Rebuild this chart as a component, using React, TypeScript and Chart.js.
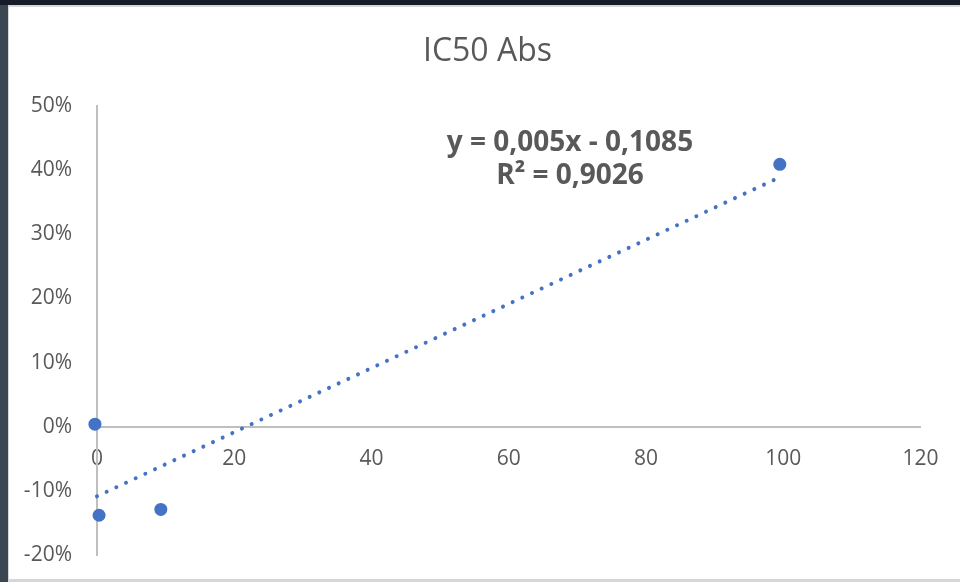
import { useEffect, useRef } from "react";
import { Chart, registerables } from "chart.js";

Chart.register(...registerables);

// Absorbance response per sample concentration
const SAMPLE_X = [-0.3, 0.3, 9.3, 99.5];
const ABS_Y = [0.004, -0.138, -0.129, 0.409];

// Linear trendline (as reported by the fit)
const TREND_SLOPE = 0.005;
const TREND_INTERCEPT = -0.1085;
const TREND_R2 = 0.9026;

const X_TICKS = [0, 20, 40, 60, 80, 100, 120];
const Y_TICKS = [-0.2, -0.1, 0, 0.1, 0.2, 0.3, 0.4, 0.5];
const TITLE = "IC50 Abs";

const BLUE = "#4472C4";
const TEXT = "#595959";
const AXIS = "#BFBFBF";
const FONT = "'Open Sans', 'Noto Sans', sans-serif";

const decimal = (v: number) => String(v).replace(".", ",");

const frame = {
  id: "frame",
  beforeDraw(chart: Chart) {
    const { ctx, width, height } = chart;
    ctx.save();
    ctx.fillStyle = "#3a4652";
    ctx.fillRect(0, 0, width, height);
    ctx.fillStyle = "#151b29";
    ctx.fillRect(0, 0, width, 5);
    ctx.fillStyle = "#d6d6d6";
    ctx.fillRect(8, 5, width - 8, height - 5);
    ctx.fillStyle = "#ffffff";
    ctx.fillRect(9, 7, width - 9, height - 10);
    ctx.restore();
  },
};

const labels = {
  id: "labels",
  afterDraw(chart: Chart) {
    const { ctx } = chart;
    ctx.save();
    ctx.fillStyle = TEXT;
    ctx.textAlign = "center";
    ctx.textBaseline = "alphabetic";
    ctx.font = `32px ${FONT}`;
    ctx.fillText(TITLE, 487.5, 60.5);
    const sign = TREND_INTERCEPT < 0 ? "-" : "+";
    const eq = `y = ${decimal(TREND_SLOPE)}x ${sign} ${decimal(Math.abs(TREND_INTERCEPT))}`;
    ctx.font = `bold 28px ${FONT}`;
    ctx.fillText(eq, 570, 151);
    ctx.fillText(`R² = ${decimal(TREND_R2)}`, 570, 184);
    ctx.restore();
  },
};

export default function App() {
  const ref = useRef<HTMLCanvasElement>(null);

  useEffect(() => {
    document.body.style.margin = "0";
    const canvas = ref.current;
    if (!canvas) return;

    const xEnd = Math.max(...SAMPLE_X);
    const trend = [0, xEnd].map((x) => ({ x, y: TREND_SLOPE * x + TREND_INTERCEPT }));
    const points = SAMPLE_X.map((x, i) => ({ x, y: ABS_Y[i] }));

    const chart = new Chart(canvas, {
      type: "scatter",
      data: {
        datasets: [
          {
            label: "Abs",
            data: points,
            backgroundColor: BLUE,
            borderColor: BLUE,
            pointRadius: 6.5,
            pointHoverRadius: 6.5,
            borderWidth: 0,
            clip: false,
            order: 1,
          },
          {
            type: "line",
            label: "Linear (Abs)",
            data: trend,
            borderColor: BLUE,
            borderWidth: 4,
            borderDash: [0.01, 10.66],
            borderCapStyle: "round",
            pointRadius: 0,
            showLine: true,
            fill: false,
            clip: false,
            order: 2,
          },
        ],
      },
      options: {
        responsive: false,
        animation: false,
        events: [],
        layout: { padding: { left: 0, right: 39.5, top: 106, bottom: 27 } },
        plugins: {
          legend: { display: false },
          title: { display: false },
          tooltip: { enabled: false },
        },
        scales: {
          x: {
            type: "linear",
            min: 0,
            max: 120,
            position: { y: 0 },
            grid: { display: false, drawTicks: false },
            border: { display: true, color: AXIS, width: 2 },
            afterBuildTicks: (s: any) => {
              s.ticks = X_TICKS.map((v) => ({ value: v }));
            },
            afterFit: (s: any) => {
              s.height = 0;
            },
            ticks: {
              color: TEXT,
              font: { family: FONT, size: 21 },
              padding: 20,
              maxRotation: 0,
              autoSkip: false,
            },
          },
          y: {
            type: "linear",
            min: -0.2,
            max: 0.5,
            position: "left",
            grid: { display: false, drawTicks: false },
            border: { display: true, color: AXIS, width: 2 },
            afterBuildTicks: (s: any) => {
              s.ticks = Y_TICKS.map((v) => ({ value: v }));
            },
            afterFit: (s: any) => {
              s.width = 97;
              s.paddingTop = 0;
              s.paddingBottom = 0;
            },
            ticks: {
              color: TEXT,
              font: { family: FONT, size: 21 },
              padding: 25,
              autoSkip: false,
              callback: (v: any) => `${Math.round(Number(v) * 100)}%`,
            },
          },
        },
      },
      plugins: [frame, labels],
    });

    return () => chart.destroy();
  }, []);

  return (
    <div style={{ width: 960, height: 582 }}>
      <canvas ref={ref} width={960} height={582} style={{ display: "block", width: 960, height: 582 }} />
    </div>
  );
}
